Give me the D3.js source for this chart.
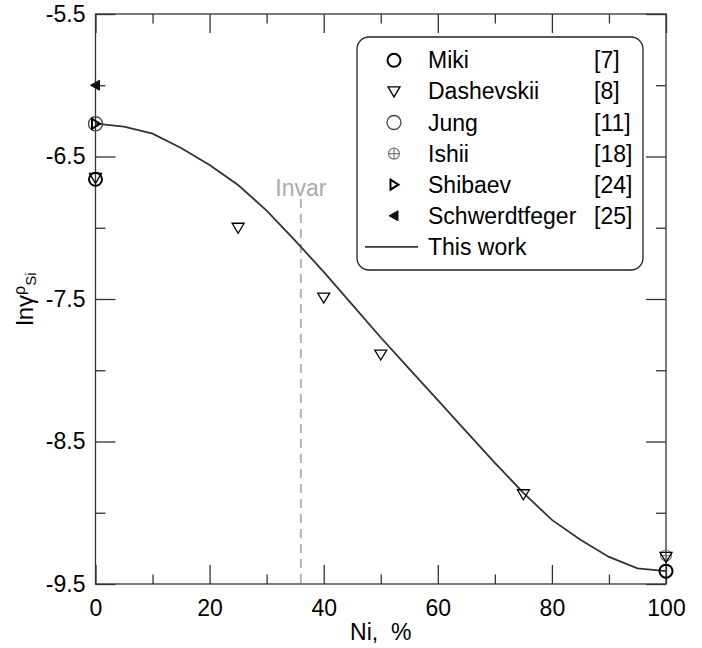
<html>
<head>
<script src="https://cdnjs.cloudflare.com/ajax/libs/d3/7.8.5/d3.min.js"></script>
<style>
body { margin: 0; background: white; }
svg { font-family: 'Liberation Sans', Arial, sans-serif; }
</style>
</head>
<body>
<svg id="chart"></svg>
<script>
// ---- data ----
var curveNi = [0, 5, 10, 15, 20, 25, 30, 35, 40, 45, 50, 55, 60, 65, 70, 75, 80, 85, 90, 95, 100];
var curveLn = [-6.27, -6.29, -6.34, -6.44, -6.56, -6.70, -6.88, -7.09, -7.31, -7.54, -7.77, -7.99, -8.21, -8.43, -8.65, -8.86, -9.05, -9.19, -9.31, -9.39, -9.41];

var mikiNi = [0, 100];
var mikiLn = [-6.66, -9.41];
var dashNi = [0, 25, 40, 50, 75, 100];
var dashLn = [-6.65, -7.0, -7.49, -7.89, -8.87, -9.31];
var jungNi = [0];
var jungLn = [-6.27];
var ishiiNi = [100];
var ishiiLn = [-9.30];
var shibNi = [0];
var shibLn = [-6.27];
var schwNi = [0];
var schwLn = [-6.0];

var invarNi = 36;

var legendNames = ["Miki", "Dashevskii", "Jung", "Ishii", "Shibaev", "Schwerdtfeger", "This work"];
var legendRefs = ["[7]", "[8]", "[11]", "[18]", "[24]", "[25]", ""];

var xMajor = [0, 20, 40, 60, 80, 100];
var xMinor = [10, 30, 50, 70, 90];
var yMajor = [-5.5, -6.5, -7.5, -8.5, -9.5];
var yMinor = [-6, -7, -8, -9];

// ---- setup ----
var W = 702, H = 648;
var svg = d3.select("#chart").attr("width", W).attr("height", H);

var x = d3.scaleLinear().domain([0, 100]).range([95.5, 666]);
var y = d3.scaleLinear().domain([-5.5, -9.5]).range([14, 584]);

var axisColor = "#333";
var fs = 23;

// axes (ticks pointing inward on all four sides)
function styleAxis(g) {
	g.select(".domain").remove();
	g.selectAll(".tick line").attr("stroke", axisColor).attr("stroke-width", 1.3);
	g.selectAll(".tick text").attr("fill", "#000").style("font-size", fs + "px")
		.style("font-family", "'Liberation Sans', Arial, sans-serif");
}

svg.append("g").attr("transform", "translate(0," + y(-9.5) + ")")
	.call(d3.axisBottom(x).tickValues(xMajor).tickSize(-19).tickPadding(16).tickFormat(function(d){ return d; }))
	.call(styleAxis);
svg.append("g").attr("transform", "translate(0," + y(-9.5) + ")")
	.call(d3.axisBottom(x).tickValues(xMinor).tickSize(-9.5).tickFormat(""))
	.call(styleAxis);
svg.append("g").attr("transform", "translate(0," + y(-5.5) + ")")
	.call(d3.axisTop(x).tickValues(xMajor).tickSize(-19).tickFormat(""))
	.call(styleAxis);
svg.append("g").attr("transform", "translate(0," + y(-5.5) + ")")
	.call(d3.axisTop(x).tickValues(xMinor).tickSize(-9.5).tickFormat(""))
	.call(styleAxis);

svg.append("g").attr("transform", "translate(" + x(0) + ",0)")
	.call(d3.axisLeft(y).tickValues(yMajor).tickSize(-20).tickPadding(10).tickFormat(function(d){ return d.toFixed(1); }))
	.call(styleAxis);
svg.append("g").attr("transform", "translate(" + x(0) + ",0)")
	.call(d3.axisLeft(y).tickValues(yMinor).tickSize(-10).tickFormat(""))
	.call(styleAxis);
svg.append("g").attr("transform", "translate(" + x(100) + ",0)")
	.call(d3.axisRight(y).tickValues(yMajor).tickSize(-20).tickFormat(""))
	.call(styleAxis);
svg.append("g").attr("transform", "translate(" + x(100) + ",0)")
	.call(d3.axisRight(y).tickValues(yMinor).tickSize(-10).tickFormat(""))
	.call(styleAxis);

// frame
svg.append("rect")
	.attr("x", x(0)).attr("y", y(-5.5))
	.attr("width", x(100) - x(0)).attr("height", y(-9.5) - y(-5.5))
	.attr("fill", "none").attr("stroke", axisColor).attr("stroke-width", 1.3);

// axis titles
svg.append("text")
	.attr("x", (x(0) + x(100)) / 2).attr("y", 640)
	.attr("text-anchor", "middle").style("font-size", fs + "px")
	.attr("xml:space", "preserve")
	.text("Ni,  %");

var yt = svg.append("text")
	.attr("transform", "translate(33," + (y(-5.5) + y(-9.5)) / 2 + ") rotate(-90)")
	.attr("text-anchor", "middle").style("font-size", "24px");
yt.append("tspan").text("ln\u03b3");
yt.append("tspan").text("\u03c1").style("font-size", "16px").attr("dy", -8);
yt.append("tspan").text("Si").style("font-size", "15px").attr("dy", 11);

// Invar marker
svg.append("line")
	.attr("x1", x(invarNi)).attr("x2", x(invarNi))
	.attr("y1", 199).attr("y2", y(-9.5))
	.attr("stroke", "#b3b3b3").attr("stroke-width", 2).attr("stroke-dasharray", "9,6");
svg.append("text")
	.attr("x", x(invarNi)).attr("y", 196)
	.attr("text-anchor", "middle").attr("fill", "#aaa").style("font-size", fs + "px")
	.text("Invar");

// model curve
var line = d3.line()
	.x(function(d, i){ return x(curveNi[i]); })
	.y(function(d){ return y(d); });
svg.append("path").datum(curveLn)
	.attr("d", line)
	.attr("fill", "none").attr("stroke", "#333").attr("stroke-width", 1.8);

// marker drawing helpers
var triDown = "M-6,-4.5L6,-4.5L0,5.5Z";
var triRight = "M-3.5,-5L4.5,0L-3.5,5Z";
var triLeft = "M-5,0L4,-5L4,5Z";

function drawMiki(g) {
	g.append("circle").attr("r", 6.5).attr("fill", "none").attr("stroke", "#000").attr("stroke-width", 2);
}
function drawDash(g) {
	g.append("path").attr("d", triDown).attr("fill", "none").attr("stroke", "#000").attr("stroke-width", 1.3);
}
function drawJung(g) {
	g.append("circle").attr("r", 7).attr("fill", "none").attr("stroke", "#444").attr("stroke-width", 1.3);
}
function drawIshii(g) {
	g.append("circle").attr("r", 5.5).attr("fill", "none").attr("stroke", "#777").attr("stroke-width", 1.2);
	g.append("path").attr("d", "M-5.5,0H5.5M0,-5.5V5.5").attr("stroke", "#777").attr("stroke-width", 1.2);
}
function drawShib(g) {
	g.append("path").attr("d", triRight).attr("fill", "none").attr("stroke", "#000").attr("stroke-width", 2);
}
function drawSchw(g) {
	g.append("path").attr("d", triLeft).attr("fill", "#111").attr("stroke", "#111").attr("stroke-width", 1);
}

function plotSeries(xs, ys, drawer) {
	xs.forEach(function(v, i){
		var g = svg.append("g").attr("transform", "translate(" + x(v) + "," + y(ys[i]) + ")");
		drawer(g);
	});
}

plotSeries(jungNi, jungLn, drawJung);
plotSeries(ishiiNi, ishiiLn, drawIshii);
plotSeries(dashNi, dashLn, drawDash);
plotSeries(mikiNi, mikiLn, drawMiki);
plotSeries(shibNi, shibLn, drawShib);
plotSeries(schwNi, schwLn, drawSchw);

// legend
var lg = svg.append("g");
lg.append("rect")
	.attr("x", 357).attr("y", 37).attr("width", 286).attr("height", 233).attr("rx", 12)
	.attr("fill", "white").attr("stroke", "#222").attr("stroke-width", 1.3);

var drawers = [drawMiki, drawDash, drawJung, drawIshii, drawShib, drawSchw, null];
legendNames.forEach(function(name, i){
	var base = 68.3 + i * 31.1;
	var row = lg.append("g");
	if (drawers[i]) {
		drawers[i](row.append("g").attr("transform", "translate(394," + (base - 8) + ")"));
	} else {
		row.append("line").attr("x1", 365).attr("x2", 418).attr("y1", base - 8).attr("y2", base - 8)
			.attr("stroke", "#333").attr("stroke-width", 1.8);
	}
	row.append("text").attr("x", 428).attr("y", base).style("font-size", fs + "px").text(name);
	row.append("text").attr("x", 594).attr("y", base).style("font-size", fs + "px").text(legendRefs[i]);
});
</script>
</body>
</html>
